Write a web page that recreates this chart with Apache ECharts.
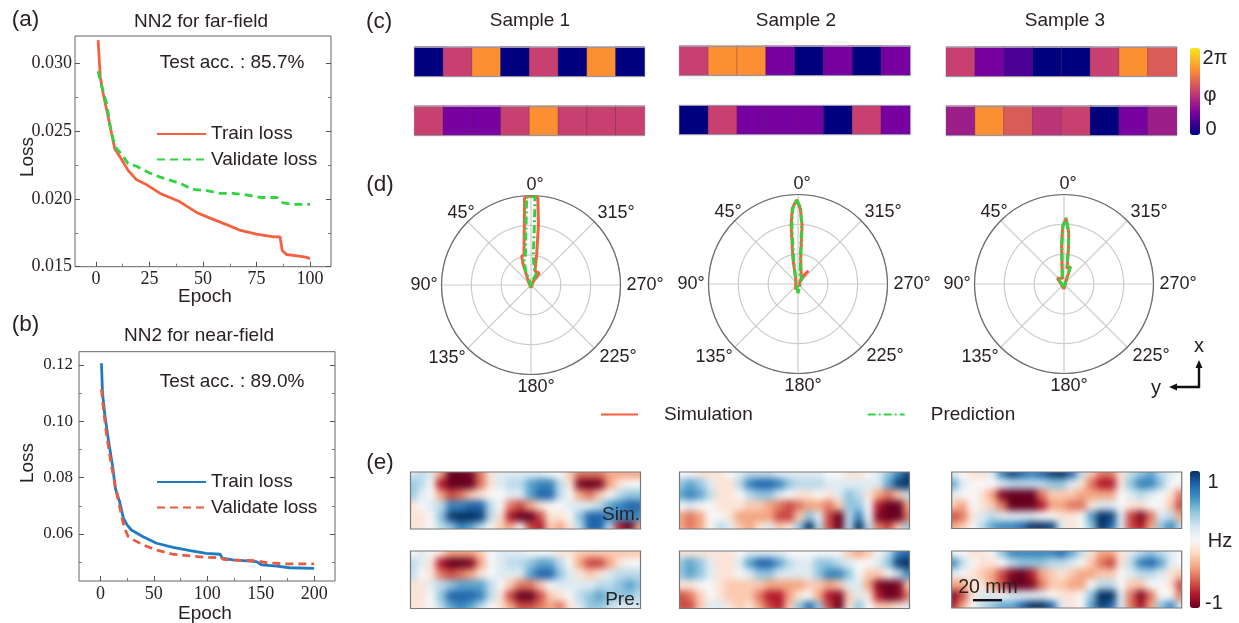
<!DOCTYPE html>
<html><head><meta charset="utf-8">
<style>
html,body{margin:0;padding:0;background:#fff;width:1239px;height:623px;overflow:hidden}
#fieldClip{position:absolute;left:0;top:0;width:1239px;height:623px;z-index:0}
#fields{position:absolute;left:0;top:0;width:1239px;height:623px;filter:blur(3.5px)}
#main{position:absolute;left:0;top:0;width:1239px;height:623px;z-index:1}
</style>
<script src="https://cdn.jsdelivr.net/npm/echarts@6/dist/echarts.min.js"></script>
</head><body>
<div id="fieldClip"><div id="fields"></div></div>
<div id="main"></div>
<script>
// ---------- (a) far-field loss ----------
const farEpoch=[1,2,3.3,5.6,8.75,12,15,19,23,30,39,47,53,61,67,75,83,86,87,89,94,98,100];
const farTrain=[.0317,.0290,.0278,.0261,.0237,.0229,.0221,.0214,.0211,.0204,.0198,.0190,.0186,.0181,.0177,.0174,.0172,.0172,.0162,.0159,.0158,.0157,.0156];
const farValEpoch=[1,2.5,5,7,9,12,15,19,25,30,36,40,45,52,58,64,70,77,84.5,87.5,92,100];
const farValidate=[.0294,.0284,.0270,.0250,.0238,.0233,.0226,.0224,.0219,.0216,.0213,.0211,.0207,.0206,.0204,.0204,.0203,.0201,.0201,.0197,.0196,.0196];
// ---------- (b) near-field loss ----------
const nearEpoch=[1,2,4,7.5,11.5,14,18,21.5,25,29,40,52.6,68,84,99,112,114,124,146,151,165,177,200];
const nearTrain=[.1206,.110,.1028,.0934,.0839,.0762,.0715,.0656,.0632,.0614,.0590,.0567,.0552,.0541,.0531,.0528,.0514,.0508,.0502,.0490,.0486,.0480,.0478];
const nearValEpoch=[1,3,6,10,14,18,22,26,31,40,52.6,68,84,99,113,115,124,146,155,174,200];
const nearValidate=[.1114,.104,.0946,.0851,.0768,.0697,.0626,.0591,.0579,.0561,.0543,.0528,.0522,.0517,.0516,.0510,.0507,.0505,.0498,.0494,.0494];
// ---------- (c) phase maps (radians) ----------
const N=0,DP=1.0,P=1.57,M=2.3,MP=2.9,K=3.14,S=3.7,O=4.71;
const phase1Top=[N,K,O,N,K,N,O,N], phase1Bottom=[K,P,P,K,O,K,K,K];
const phase2Top=[K,O,O,P,N,P,N,P], phase2Bottom=[N,K,P,P,P,N,K,P];
const phase3Top=[K,P,DP,N,N,K,O,S], phase3Bottom=[M,O,S,MP,K,N,P,M];
// ---------- (d) radiation patterns ----------
const angleLabels=['0°','45°','90°','135°','180°','225°','270°','315°'];
const sim1Angle=[180,36,21,18,13,6.3,4.2,2,0,358,355.5,353,349.4,344,325,328,180];
const sim1Radius=[.1,.15,.73,1.01,1.04,2.04,2.93,2.98,2.98,2.98,2.93,2.04,1.04,.48,.49,.15,.1];
const pred1Angle=[180,20,21,15.4,10.6,4.7,2.9,0,357.4,356.8,355.6,350,335,340,180];
const pred1Radius=[.08,.12,.49,.88,1.03,2.03,2.93,3,2.93,2.03,1.02,.58,.44,.15,.08];
const sim2Angle=[158,23,11.4,6.7,4.4,1,358.2,356,354,329,322,329,200];
const sim2Radius=[.21,.2,.87,1.98,2.53,2.82,2.52,1.97,.86,.22,.56,.15,.1];
const pred2Angle=[180,30,10,6,4,1,358,356.5,354.5,340,330,180];
const pred2Radius=[.31,.15,.85,1.98,2.53,2.85,2.55,1.98,.86,.2,.3,.31];
const sim3Angle=[180,49,15,6,3.5,1.4,358.2,354.8,352.9,349,339.4,330,180];
const sim3Radius=[.17,.29,.2,.64,1.3,1.91,2.19,1.75,1.2,.53,.62,.15,.17];
const pred3Angle=[180,49,15,6,3.2,1.2,358.2,355,353,350,340,330,180];
const pred3Radius=[.1,.27,.2,.66,1.35,1.95,2.22,1.75,1.2,.55,.6,.15,.1];
// ---------- (e) field maps (tenths of Hz) ----------
const sim1=[[1,2,1,-3,-8,-8,-7,-4,-1,1,1,1,1,1,0,0,-2,-4,-4,-4,-3,-3,-3,-3],
[3,2,0,-6,-9,-10,-8,-4,-1,1,2,2,4,5,5,2,-1,-7,-9,-7,-3,-1,0,0],
[3,1,0,-3,-5,-4,-2,-1,0,0,1,1,4,6,6,2,0,-3,-4,-2,0,2,3,3],
[-1,0,1,2,5,5,6,6,2,0,-4,-5,-3,-1,0,0,1,1,1,2,4,5,6,6],
[-1,-1,0,3,7,9,10,7,2,-1,-6,-8,-8,-5,-1,-1,0,3,6,6,5,5,5,5],
[-1,-1,0,2,3,5,4,2,0,-2,-3,0,-5,-6,-2,-3,-1,2,6,6,2,-6,-8,-3]];
const pre1=[[0,1,0,-1,-3,-3,-3,-2,0,1,1,1,0,0,0,-1,-1,-2,-2,-2,-2,-2,-2,-2],
[2,1,-1,-6,-8,-9,-7,-3,0,1,2,2,3,4,4,2,0,-3,-5,-5,-3,-1,0,0],
[2,0,-1,-4,-5,-4,-3,-1,0,1,1,1,4,6,6,3,1,-1,-2,-1,1,2,2,2],
[-1,-1,1,2,3,4,4,4,2,0,-2,-4,-4,-2,0,1,1,1,1,2,2,3,4,3],
[-1,-1,0,3,6,6,6,5,2,-1,-5,-8,-8,-5,-2,-1,0,2,3,4,3,3,3,2],
[-1,-1,0,2,4,5,4,2,0,-1,-3,-5,-5,-4,-3,-4,-1,1,3,3,2,1,1,1]];
const sim2=[[0,0,-1,-1,-1,0,1,2,2,2,1,1,1,1,1,0,0,-1,-1,0,1,3,5,7],
[3,4,3,1,-1,-1,2,5,6,6,5,3,2,2,2,1,1,1,1,1,1,4,7,9],
[4,5,4,2,-1,-1,0,2,3,3,1,0,-1,-1,0,-1,1,3,2,-1,-3,-4,-2,2],
[0,1,0,0,-1,-1,-1,-2,-2,-3,-4,-5,-4,-3,-3,-4,-2,3,3,0,-6,-9,-8,-3],
[-3,-4,-3,0,0,-1,-3,-3,-3,-3,-5,-5,-2,3,1,-5,-9,2,5,0,-7,-10,-8,-4],
[-3,-4,-3,0,2,1,-2,-3,-1,1,-2,-1,3,9,2,-5,-9,2,9,2,-4,-5,-2,3]];
const pre2=[[-1,-1,-1,-1,-1,-1,0,1,1,1,1,0,0,0,0,0,0,-2,-3,-2,0,2,5,6],
[3,4,3,1,-1,-1,1,4,6,6,4,2,1,1,3,3,2,1,0,0,1,3,7,9],
[3,4,3,1,-1,-1,0,1,3,3,1,1,1,1,3,5,5,3,0,-2,-2,0,2,5],
[-1,-1,0,0,-1,-2,-2,-2,-2,-3,-3,-3,-3,-2,-2,-3,-2,1,1,-3,-7,-8,-7,-2],
[-5,-4,-2,0,-1,-2,-2,-2,-4,-6,-6,-3,-1,0,-3,-6,-7,-2,1,-1,-6,-9,-7,-4],
[-5,-5,-2,1,1,-1,-2,-1,-3,-5,-6,-2,3,6,3,-5,-9,-1,3,0,-2,-2,-1,1]];
const sim3=[[1,0,-1,-1,1,5,7,6,5,6,7,8,6,2,-2,-4,-4,-1,2,3,4,2,1,0],
[4,1,0,0,0,1,2,2,2,2,3,3,1,-1,-4,-6,-6,-1,3,5,5,3,0,0],
[1,0,0,-1,-3,-7,-9,-9,-8,-4,-2,-2,-2,-3,-3,-3,-3,0,1,2,1,0,-1,-4],
[-2,-3,0,-1,-2,-4,-8,-10,-9,-6,-3,-3,-4,-4,-1,1,1,0,-1,-1,0,0,-2,-5],
[-5,-4,-1,1,2,1,1,1,1,0,0,-1,-1,0,4,9,7,1,-5,-7,-4,1,2,-3],
[-3,-2,0,2,4,5,5,6,8,9,7,1,-1,0,3,8,6,1,-5,-6,-3,3,5,2]];
const pre3=[[0,0,-1,-1,0,3,5,5,5,5,5,6,4,2,-1,-3,-3,-1,1,2,3,2,1,0],
[5,2,0,-1,-1,0,2,3,3,3,2,2,1,0,-2,-4,-5,-1,2,5,6,4,1,0],
[1,0,-1,-2,-3,-5,-7,-8,-6,-3,-2,-1,-2,-3,-3,-2,-2,0,1,2,2,1,-1,-2],
[-3,-3,-1,-1,-3,-5,-8,-10,-7,-4,-2,-2,-3,-3,0,2,2,0,-2,-2,0,0,-1,-5],
[-7,-5,-1,1,1,0,1,1,1,1,0,-1,-1,0,3,8,8,1,-4,-7,-4,0,0,-4],
[-6,-3,0,2,3,4,4,6,8,9,6,1,-1,0,4,7,6,1,-4,-6,-3,3,5,1]];

const INK='#2a2222', SANS='"Liberation Sans",Arial,sans-serif', SERIF='"Liberation Serif","Times New Roman",serif';
const RED='#f6603f', GREEN='#31d33f', BLUE='#1f7cc4', ORANGE='#e85b3f';
const PHASE_COLORS=['#00007f','#7800a0','#c8406f','#fc8f32','#f5e71e'];
const RDBU=['#67001f','#b2182b','#d6604d','#f4a582','#fddbc7','#f7f7f7','#d1e5f0','#92c5de','#4393c3','#2166ac','#053061'];

const grid=[],xAxis=[],yAxis=[],series=[],polar=[],angleAxis=[],radiusAxis=[],graphic=[];
const zip2=(a,b)=>a.map((v,i)=>[v,b[i]]);
function txt(text,x,y,o={}){graphic.push({type:'text',x,y,rotation:o.rot||0,z:50,style:{text,font:`${o.weight||''} ${o.size||19}px ${o.family||SANS}`,fill:o.color||INK,textAlign:o.align||'center',textVerticalAlign:'middle',verticalAlign:'middle'}});}

function linePanel(p){
  const g=grid.length;
  const rect={left:p.l,top:p.t,width:p.r-p.l,height:p.b-p.t};
  grid.push({...rect,show:true,borderColor:'#666',borderWidth:1,backgroundColor:'transparent'});
  grid.push({...rect,show:false});
  const none={show:false};
  const noLine={show:false,onZero:false};
  const xBase={type:'value',min:p.xMin,max:p.xMax,gridIndex:g,splitLine:none};
  const yBase={type:'value',min:p.yMin,max:p.yMax,gridIndex:g,splitLine:none};
  xAxis.push({...xBase,position:'bottom',axisLine:noLine,
    axisTick:{show:true,inside:true,length:5,lineStyle:{color:'#555'},customValues:p.xTicks},
    axisLabel:{show:true,customValues:p.xTicks,margin:p.xMargin,fontFamily:SERIF,fontSize:18,color:INK}});
  yAxis.push({...yBase,position:'left',axisLine:noLine,
    axisTick:{show:true,inside:true,length:5,lineStyle:{color:'#555'},customValues:p.yTicks},
    axisLabel:{show:true,customValues:p.yTicks,margin:p.yMargin,fontFamily:SERIF,fontSize:p.ySize,color:INK,formatter:v=>v.toFixed(p.yDigits)}});
  yAxis.push({...yBase,position:'right',axisLine:noLine,axisLabel:none,
    axisTick:{show:true,inside:true,length:5,lineStyle:{color:'#555'},customValues:p.yTicks}});
  // minor ticks
  xAxis.push({...xBase,gridIndex:g+1,position:'bottom',axisLine:noLine,axisLabel:none,
    axisTick:{show:true,inside:true,length:3,lineStyle:{color:'#777'},customValues:p.xMinor}});
  yAxis.push({...yBase,gridIndex:g+1,position:'left',axisLine:noLine,axisLabel:none,
    axisTick:{show:true,inside:true,length:3,lineStyle:{color:'#777'},customValues:p.yMinor}});
  yAxis.push({...yBase,gridIndex:g+1,position:'right',axisLine:noLine,axisLabel:none,
    axisTick:{show:true,inside:true,length:3,lineStyle:{color:'#777'},customValues:p.yMinor}});
  const xi=xAxis.length-2, yi=yAxis.length-4;
  series.push({type:'line',name:p.trainName,xAxisIndex:xi,yAxisIndex:yi,data:zip2(p.trainX,p.trainY),
    showSymbol:false,symbol:'none',lineStyle:{color:p.trainColor,width:2.8},itemStyle:{color:p.trainColor},z:3,silent:true});
  series.push({type:'line',name:p.valName,xAxisIndex:xi,yAxisIndex:yi,data:zip2(p.valX,p.valY),
    showSymbol:false,symbol:'none',lineStyle:{color:p.valColor,width:2.8,type:[8,5]},itemStyle:{color:p.valColor},z:4,silent:true});
}
linePanel({l:75,t:36,r:331,b:266.7,xMin:-9.8,xMax:109.8,yMin:.015,yMax:.032,yDigits:3,ySize:18,xMargin:4,yMargin:3,
  xTicks:[0,25,50,75,100],xMinor:[12.5,37.5,62.5,87.5],yTicks:[.015,.02,.025,.03],yMinor:[.0175,.0225,.0275],
  trainX:farEpoch,trainY:farTrain,valX:farValEpoch,valY:farValidate,trainColor:RED,valColor:GREEN,
  trainName:'Train loss (far)',valName:'Validate loss (far)'});
linePanel({l:79,t:351.7,r:335,b:581,xMin:-20,xMax:219.5,yMin:.0433,yMax:.1247,yDigits:2,ySize:17,xMargin:4,yMargin:6,
  xTicks:[0,50,100,150,200],xMinor:[25,75,125,175],yTicks:[.06,.08,.10,.12],yMinor:[.05,.07,.09,.11],
  trainX:nearEpoch,trainY:nearTrain,valX:nearValEpoch,valY:nearValidate,trainColor:BLUE,valColor:ORANGE,
  trainName:'Train loss (near)',valName:'Validate loss (near)'});

const legendText={fontFamily:SANS,fontSize:19,color:INK,lineHeight:20};
const lossLegend=(names,top)=>({data:names,left:156,top,orient:'vertical',itemWidth:49,itemHeight:12,itemGap:5.5,padding:0,
  selectedMode:false,textStyle:legendText,itemStyle:{opacity:0},formatter:n=>n.split(' (')[0]});

// (c) heatmaps
const phaseCells=[];
function phaseMap(values,l,t,w,h){
  const g=grid.length;
  grid.push({left:l,top:t,width:w,height:h,show:false});
  const cats=values.map((_,i)=>String(i));
  const line={show:true,onZero:false,lineStyle:{color:'#9b93a8',width:1.2}};
  xAxis.push({type:'category',gridIndex:g,data:cats,position:'bottom',axisLine:line,axisTick:{show:false},axisLabel:{show:false},splitLine:{show:false},z:5});
  xAxis.push({type:'category',gridIndex:g,data:cats,position:'top',axisLine:line,axisTick:{show:false},axisLabel:{show:false},splitLine:{show:false},z:5});
  yAxis.push({type:'category',gridIndex:g,data:['0'],axisLine:{show:false},axisTick:{show:false},axisLabel:{show:false},splitLine:{show:false}});
  phaseCells.push(series.length);
  series.push({type:'heatmap',xAxisIndex:xAxis.length-2,yAxisIndex:yAxis.length-1,data:values.map((v,i)=>[i,0,v]),
    itemStyle:{borderColor:'rgba(90,40,90,0.35)',borderWidth:1},silent:true});
}
phaseMap(phase1Top,414.5,47,230,29.5);   phaseMap(phase1Bottom,414.5,106,230,29.5);
phaseMap(phase2Top,679.5,46,230.5,29.5); phaseMap(phase2Bottom,679.5,105.5,230.5,29);
phaseMap(phase3Top,946.3,47,230.4,29.5); phaseMap(phase3Bottom,946.3,106,230.4,29.5);

// (d) polar plots
const labelOffset=[[4,-100],[-70,-72],[-107,0],[-84,73],[5,102],[87,72],[114,0],[85,-72]];
function polarPanel(cx,cy,sa,sr,pa,pr){
  const i=polar.length;
  polar.push({center:[cx,cy],radius:89.5});
  angleAxis.push({polarIndex:i,type:'value',min:0,max:360,interval:45,startAngle:90,clockwise:false,
    axisLine:{lineStyle:{color:'#6a6a6a',width:1.2}},axisTick:{show:false},axisLabel:{show:false},
    splitLine:{show:true,lineStyle:{color:'#cccccc',width:1.2}}});
  radiusAxis.push({polarIndex:i,type:'value',min:0,max:3,interval:1,axisLine:{show:false},axisTick:{show:false},axisLabel:{show:false},
    splitLine:{show:true,lineStyle:{color:'#cccccc',width:1.2}}});
  series.push({type:'line',name:'Simulation',coordinateSystem:'polar',polarIndex:i,showSymbol:false,symbol:'none',clip:false,
    data:zip2(sr,sa),lineStyle:{color:RED,width:3},itemStyle:{color:RED},silent:true,z:3});
  series.push({type:'line',name:'Prediction',coordinateSystem:'polar',polarIndex:i,showSymbol:false,symbol:'none',clip:false,
    data:zip2(pr,pa),lineStyle:{color:GREEN,width:3,type:[8,3,2,3]},itemStyle:{color:GREEN},silent:true,z:4});
  angleLabels.forEach((t,k)=>txt(t,cx+labelOffset[k][0],cy+labelOffset[k][1],{size:18}));
}
polarPanel(531,285,sim1Angle,sim1Radius,pred1Angle,pred1Radius);
polarPanel(798,284,sim2Angle,sim2Radius,pred2Angle,pred2Radius);
polarPanel(1064,284,sim3Angle,sim3Radius,pred3Angle,pred3Radius);

// texts
[['(a)',25.5,20],['(b)',25.5,325],['(c)',379,22],['(d)',380,185],['(e)',380,463]].forEach(a=>txt(a[0],a[1],a[2],{size:22.5}));
txt('NN2 for far-field',201,22); txt('NN2 for near-field',199,336);
txt('Test acc. : 85.7%',232,63,{size:19}); txt('Test acc. : 89.0%',232,382,{size:19});
txt('Epoch',205,297); txt('Epoch',205,614);
txt('Loss',28,157,{rot:Math.PI/2}); txt('Loss',28,463,{rot:Math.PI/2});
txt('Sample 1',530,21); txt('Sample 2',796,21); txt('Sample 3',1065,21);
txt('2π',1215,58,{size:20}); txt('φ',1210,95,{size:20}); txt('0',1211,129,{size:20});
txt('x',1199,346,{size:20}); txt('y',1156,388,{size:20});
txt('Sim.',640,515,{align:'right'}); txt('Pre.',640,600,{align:'right'});
txt('20 mm',988,588,{size:19.5});
txt('1',1213,482,{size:20}); txt('Hz',1220,541,{size:20}); txt('-1',1214,603,{size:20});
// arrows and scale bar
const blk={stroke:'#111',lineWidth:2.4,fill:'none'};
graphic.push({type:'polyline',shape:{points:[[1199,366],[1199,387],[1174,387]]},style:blk,z:50});
graphic.push({type:'polygon',shape:{points:[[1199,360],[1195.5,368],[1202.5,368]]},style:{fill:'#111'},z:50});
graphic.push({type:'polygon',shape:{points:[[1169,387],[1177,383.5],[1177,390.5]]},style:{fill:'#111'},z:50});
graphic.push({type:'rect',shape:{x:973,y:599,width:29,height:2.4},style:{fill:'#111'},z:50});

// (e) field maps are drawn in their own layer underneath, softened like the source image
const fieldRects=[
 [sim1,410.5,472,230,57],[pre1,410.5,551,230,57.5],
 [sim2,679.5,472,230,57],[pre2,679.5,551,230,57.5],
 [sim3,951.7,472,230,56.5],[pre3,951.7,551,230,57]];
const fGrid=[],fX=[],fY=[],fSeries=[];
const PAD=4;
fieldRects.forEach((f,i)=>{
  const [vals,l,t,w,h]=f;
  fGrid.push({left:l-PAD,top:t-PAD,width:w+2*PAD,height:h+2*PAD,show:false});
  const off={show:false};
  fX.push({type:'category',gridIndex:i,data:vals[0].map((_,c)=>String(c)),axisLine:off,axisTick:off,axisLabel:off,splitLine:off});
  fY.push({type:'category',gridIndex:i,inverse:true,data:vals.map((_,r)=>String(r)),axisLine:off,axisTick:off,axisLabel:off,splitLine:off});
  const d=[];vals.forEach((row,r)=>row.forEach((v,c)=>d.push([c,r,v/10])));
  fSeries.push({type:'heatmap',xAxisIndex:i,yAxisIndex:i,data:d,silent:true,progressive:0});
  graphic.push({type:'rect',shape:{x:l,y:t,width:w,height:h},style:{fill:'none',stroke:'#777',lineWidth:1.2},z:40});
});
document.getElementById('fieldClip').style.clipPath='path("'+fieldRects.map(f=>`M${f[1]} ${f[2]}h${f[3]}v${f[4]}h${-f[3]}z`).join('')+'")';
const fieldChart=echarts.init(document.getElementById('fields'),null,{renderer:'canvas'});
fieldChart.setOption({animation:false,grid:fGrid,xAxis:fX,yAxis:fY,series:fSeries,
  visualMap:{show:false,min:-0.75,max:0.75,seriesIndex:fSeries.map((_,i)=>i),inRange:{color:RDBU}}});

const chart=echarts.init(document.getElementById('main'),null,{renderer:'canvas'});
chart.setOption({
  animation:false,backgroundColor:'transparent',
  grid,xAxis,yAxis,polar,angleAxis,radiusAxis,series,graphic,
  legend:[
    lossLegend(['Train loss (far)','Validate loss (far)'],124),
    lossLegend(['Train loss (near)','Validate loss (near)'],472),
    {data:['Simulation','Prediction'],left:600,top:405,itemWidth:37,itemHeight:12,itemGap:114,padding:0,selectedMode:false,itemStyle:{opacity:0},
     textStyle:{fontFamily:SANS,fontSize:19,color:INK,padding:[0,0,0,21]}}
  ],
  visualMap:[
    {type:'continuous',show:true,min:0,max:2*Math.PI,left:1190,top:48,itemWidth:10,itemHeight:87,padding:0,calculable:false,
     seriesIndex:phaseCells,inRange:{color:PHASE_COLORS},text:null,formatter:()=>''},
    {type:'continuous',show:true,min:-1,max:1,left:1190,top:471,itemWidth:10,itemHeight:137,padding:0,calculable:false,
     seriesIndex:[],inRange:{color:RDBU},text:null,formatter:()=>''}
  ]
});
</script>
</body></html>
